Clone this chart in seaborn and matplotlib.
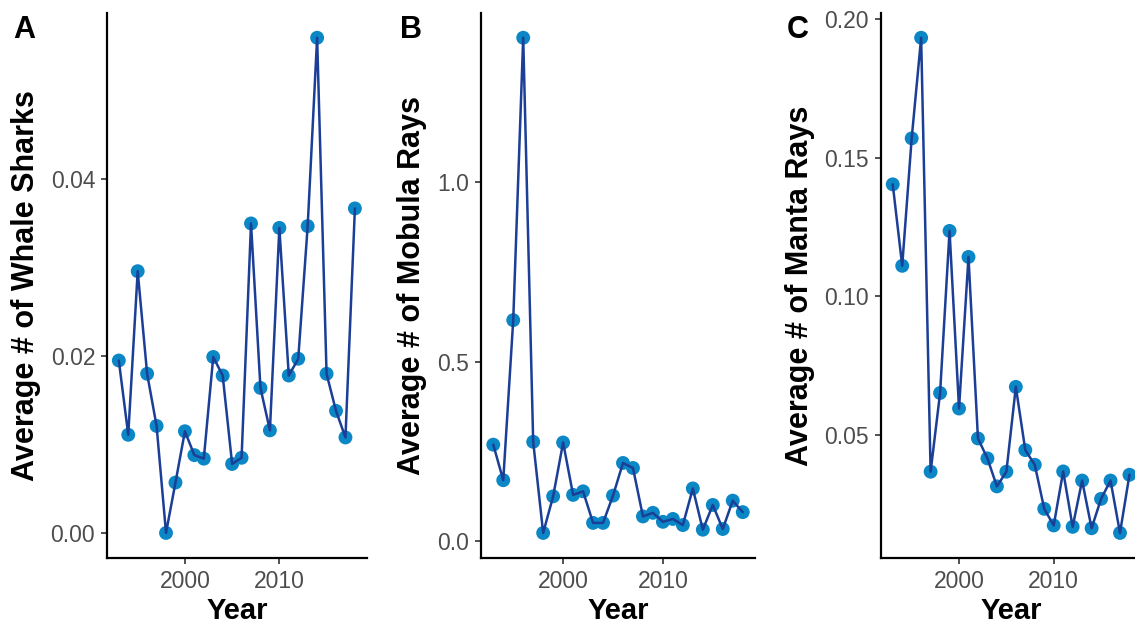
import numpy as np
import pandas as pd
import matplotlib
matplotlib.use("Agg")
import matplotlib.pyplot as plt
import seaborn as sns

years = list(range(1993, 2019))

whale_sharks = [0.0195, 0.0111, 0.0296, 0.0180, 0.0121, 0.0000, 0.0057, 0.0115,
                0.0088, 0.0084, 0.0199, 0.0178, 0.0078, 0.0085, 0.0350, 0.0164,
                0.0116, 0.0345, 0.0178, 0.0197, 0.0347, 0.0560, 0.0180, 0.0138,
                0.0108, 0.0367]
mobula_rays = [0.269, 0.170, 0.616, 1.403, 0.277, 0.023, 0.125, 0.275,
               0.129, 0.139, 0.051, 0.051, 0.127, 0.218, 0.204, 0.069,
               0.079, 0.054, 0.062, 0.045, 0.147, 0.032, 0.101, 0.034,
               0.113, 0.081]
manta_rays = [0.1404, 0.1110, 0.1570, 0.1933, 0.0367, 0.0651, 0.1236, 0.0595,
              0.1142, 0.0487, 0.0415, 0.0314, 0.0367, 0.0673, 0.0445, 0.0392,
              0.0233, 0.0173, 0.0368, 0.0168, 0.0335, 0.0163, 0.0269, 0.0335,
              0.0146, 0.0356]

panel_letters = ["A", "B", "C"]
y_titles = ["Average # of Whale Sharks", "Average # of Mobula Rays", "Average # of Manta Rays"]
y_ticks = [[0.00, 0.02, 0.04], [0.0, 0.5, 1.0], [0.05, 0.10, 0.15, 0.20]]
y_ticklabels = [["0.00", "0.02", "0.04"], ["0.0", "0.5", "1.0"], ["0.05", "0.10", "0.15", "0.20"]]
x_ticks = [2000, 2010]
series = [whale_sharks, mobula_rays, manta_rays]

sns.set_theme(style="ticks")
plt.rcParams['font.family'] = ['Liberation Sans', 'DejaVu Sans']

W, H = 1135, 627
fig = plt.figure(figsize=(W / 100, H / 100), dpi=100)

# axes pixel boxes: (left, right)
boxes = [(107, 366.7), (480.8, 755.2), (880.9, 1141.3)]
top_px, bot_px = 13, 557.7
letter_x = [13, 400, 787]

line_color = "#1B3E96"
point_color = "#0B87C6"

for i, (vals, (l, r)) in enumerate(zip(series, boxes)):
    ax = fig.add_axes([l / W, 1 - bot_px / H, (r - l) / W, (bot_px - top_px) / H])
    df = pd.DataFrame({"Year": years, "Value": vals})
    sns.scatterplot(data=df, x="Year", y="Value", ax=ax, s=100, color=point_color,
                    edgecolor="none", zorder=2)
    sns.lineplot(data=df, x="Year", y="Value", ax=ax, color=line_color, linewidth=1.8,
                 zorder=3)
    xr = max(years) - min(years)
    ax.set_xlim(min(years) - 0.05 * xr, max(years) + 0.05 * xr)
    yr = max(vals) - min(vals)
    ax.set_ylim(min(vals) - 0.05 * yr, max(vals) + 0.05 * yr)
    ax.set_xticks(x_ticks)
    ax.set_xticklabels([str(t) for t in x_ticks])
    ax.set_yticks(y_ticks[i])
    ax.set_yticklabels(y_ticklabels[i])
    ax.tick_params(axis="both", labelsize=16.5, labelcolor="#4D4D4D", color="#222222",
                   length=4.5, width=1.1, pad=4)
    for side in ["top", "right"]:
        ax.spines[side].set_visible(False)
    for side in ["left", "bottom"]:
        ax.spines[side].set_color("black")
        ax.spines[side].set_linewidth(1.6)
    ax.set_xlabel("Year", fontsize=21, fontweight="bold", color="black", labelpad=3)
    ax.set_ylabel(y_titles[i], fontsize=22, fontweight="bold", color="black", labelpad=7)
    ax.grid(False)
    fig.text(letter_x[i] / W, 1 - 38 / H, panel_letters[i], fontsize=22, fontweight="bold",
             color="black", ha="left", va="baseline")

fig.savefig("out.png", dpi=100, facecolor="white")
